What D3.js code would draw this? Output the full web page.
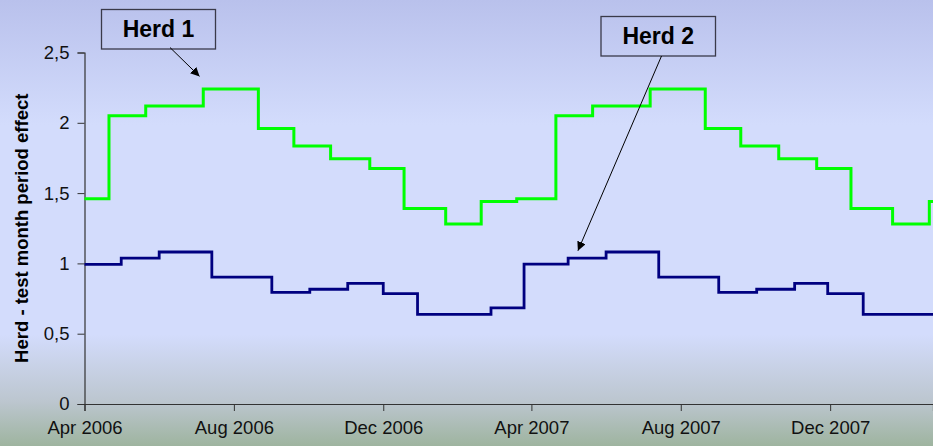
<!DOCTYPE html>
<html>
<head>
<meta charset="utf-8">
<script src="https://cdn.jsdelivr.net/npm/d3@7"></script>
<style>
  body { margin: 0; overflow: hidden; }
  text { font-family: Arial, "Liberation Sans", sans-serif; }
</style>
</head>
<body>
<div id="svganchor"></div>
<script>
let width = 933;
let height = 446;
let margin = { top: 52.5, right: 0, bottom: 42, left: 84.5 };

// step change dates and values for each herd
let herd1Dates = ["2006-04-01", "2006-04-21", "2006-05-21", "2006-07-07", "2006-08-21", "2006-09-19",
  "2006-10-19", "2006-11-20", "2006-12-18", "2007-01-21", "2007-02-19", "2007-03-20",
  "2007-04-21", "2007-05-21", "2007-07-07", "2007-08-21", "2007-09-19", "2007-10-20",
  "2007-11-20", "2007-12-18", "2008-01-21", "2008-02-20", "2008-02-23"];
let herd1Values = [1.46, 2.05, 2.12, 2.24, 1.96, 1.835, 1.745, 1.675, 1.39, 1.28, 1.44, 1.46,
  2.05, 2.12, 2.24, 1.96, 1.835, 1.745, 1.675, 1.39, 1.28, 1.44, 1.44];

let herd2Dates = ["2006-04-01", "2006-05-01", "2006-06-01", "2006-07-14", "2006-09-01", "2006-10-02",
  "2006-11-02", "2006-12-01", "2006-12-29", "2007-02-27", "2007-03-26", "2007-05-01",
  "2007-06-01", "2007-07-14", "2007-09-01", "2007-10-02", "2007-11-02", "2007-11-29",
  "2007-12-28", "2008-02-23"];
let herd2Values = [0.993, 1.038, 1.081, 0.903, 0.794, 0.816, 0.858, 0.785, 0.638, 0.683, 0.995,
  1.038, 1.081, 0.903, 0.794, 0.816, 0.858, 0.785, 0.638, 0.638];

let xTicks = ["2006-04-01", "2006-08-01", "2006-12-01", "2007-04-01", "2007-08-01", "2007-12-01"];
let yTicks = [0, 0.5, 1, 1.5, 2, 2.5];

// callouts: label, date and value the arrow points at
let callouts = [
  { label: "Herd 1", box: [101.5, 9.5, 114, 39.5], from: [170, 47.5], date: "2006-07-04", value: 2.33 },
  { label: "Herd 2", box: [601, 16.5, 114.5, 39.5], from: [661.5, 56], date: "2007-05-09", value: 1.09 }
];

let parse = d3.timeParse("%Y-%m-%d");

let svg = d3.select("#svganchor").append("svg").attr("width", width).attr("height", height);

let defs = svg.append("defs");
let grad = defs.append("linearGradient").attr("id", "bg").attr("x1", 0).attr("y1", 0).attr("x2", 0).attr("y2", 1);
grad.append("stop").attr("offset", "0%").attr("stop-color", "#b9c1ec");
grad.append("stop").attr("offset", "28%").attr("stop-color", "#d3dcfc");
grad.append("stop").attr("offset", "75%").attr("stop-color", "#d3dcfc");
grad.append("stop").attr("offset", "90%").attr("stop-color", "#bcc6cf");
grad.append("stop").attr("offset", "100%").attr("stop-color", "#9eb49f");

defs.append("marker").attr("id", "arrow").attr("viewBox", "0 0 10 10")
  .attr("refX", 10).attr("refY", 5).attr("markerWidth", 9).attr("markerHeight", 9)
  .attr("markerUnits", "userSpaceOnUse").attr("orient", "auto")
  .append("path").attr("d", "M0,0 L10,5 L0,10 z").attr("fill", "#000");

svg.append("rect").attr("width", width).attr("height", height).attr("fill", "url(#bg)");

let xScale = d3.scaleTime()
  .domain([parse("2006-04-01"), parse("2008-02-23")])
  .range([margin.left, width - margin.right]);
let yScale = d3.scaleLinear().domain([0, 2.5]).range([height - margin.bottom, margin.top]);

let fmt = d3.format(".1f");

let yAxis = svg.append("g").attr("transform", "translate(" + margin.left + ",0)")
  .call(d3.axisLeft(yScale).tickValues(yTicks).tickSize(7).tickPadding(8)
    .tickFormat(function (d) { return d === 0 || d === 1 || d === 2 ? String(d) : fmt(d).replace(".", ","); }));

let xAxis = svg.append("g").attr("transform", "translate(0," + (height - margin.bottom) + ")")
  .call(d3.axisBottom(xScale).tickValues(xTicks.map(parse)).tickSize(7).tickPadding(10)
    .tickFormat(d3.timeFormat("%b %Y")));

svg.selectAll(".domain").attr("stroke", "#333").attr("stroke-width", 1.2);
svg.selectAll(".tick line").attr("stroke", "#333");
svg.selectAll(".tick text").attr("font-size", 18.5).attr("fill", "#111")
  .style("font-family", "Arial, 'Liberation Sans', sans-serif");

svg.append("text")
  .attr("transform", "translate(28," + ((margin.top + height - margin.bottom) / 2) + ") rotate(-90)")
  .attr("text-anchor", "middle")
  .attr("font-size", 18.5).attr("font-weight", "bold").attr("fill", "#000")
  .text("Herd - test month period effect");

let line = d3.line()
  .x(function (d) { return xScale(d.date); })
  .y(function (d) { return yScale(d.value); })
  .curve(d3.curveStepAfter);

function series(dates, values) {
  return dates.map(function (d, i) { return { date: parse(d), value: values[i] }; });
}

svg.append("path").datum(series(herd2Dates, herd2Values))
  .attr("d", line).attr("fill", "none").attr("stroke", "#000080").attr("stroke-width", 2.8);

svg.append("path").datum(series(herd1Dates, herd1Values))
  .attr("d", line).attr("fill", "none").attr("stroke", "#00ff00").attr("stroke-width", 3);

callouts.forEach(function (c) {
  let g = svg.append("g");
  g.append("rect").attr("x", c.box[0]).attr("y", c.box[1]).attr("width", c.box[2]).attr("height", c.box[3])
    .attr("fill", "none").attr("stroke", "#3a3a4a").attr("stroke-width", 1.3);
  g.append("text").attr("x", c.box[0] + c.box[2] / 2).attr("y", c.box[1] + c.box[3] / 2 + 8)
    .attr("text-anchor", "middle").attr("font-size", 23).attr("font-weight", "bold").attr("fill", "#000")
    .text(c.label);
  g.append("line").attr("x1", c.from[0]).attr("y1", c.from[1])
    .attr("x2", xScale(parse(c.date))).attr("y2", yScale(c.value))
    .attr("stroke", "#000").attr("stroke-width", 1).attr("marker-end", "url(#arrow)");
});
</script>
</body>
</html>
